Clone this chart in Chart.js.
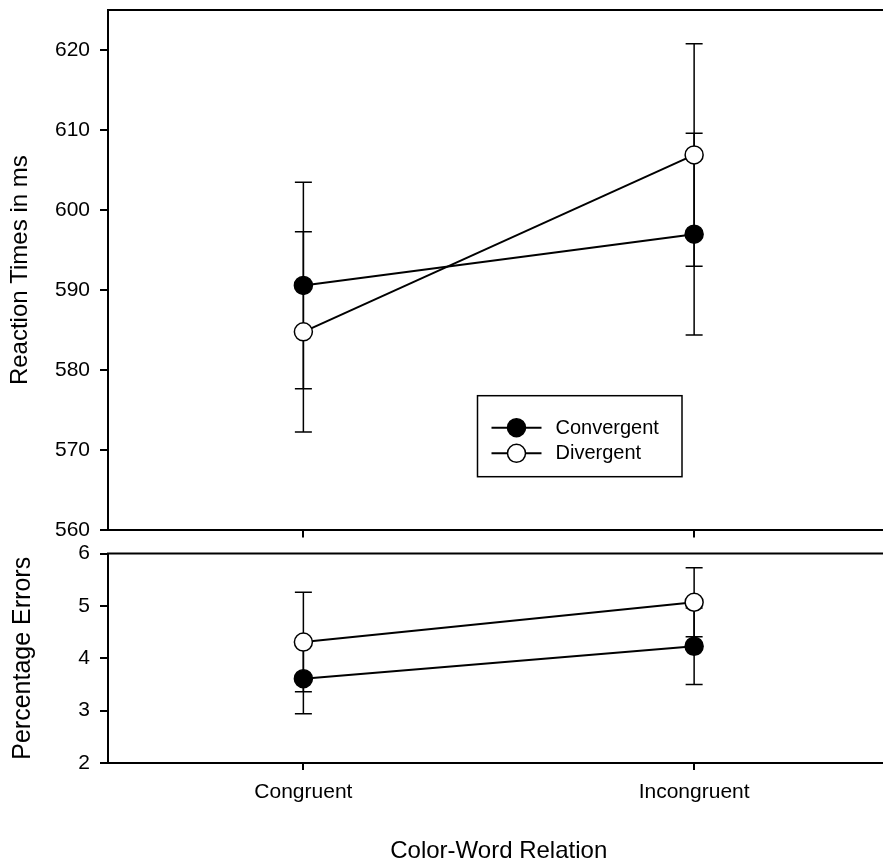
<!DOCTYPE html>
<html><head><meta charset="utf-8">
<script src="https://cdn.jsdelivr.net/npm/chart.js@4.4.1/dist/chart.umd.min.js"></script>
<style>
html,body{margin:0;padding:0;background:#fff;}
#wrap{position:relative;width:883px;height:862px;overflow:hidden;background:#fff;}
#wrap canvas{position:absolute;left:0;}
#top{top:-20px;}
#bot{top:531px;}
</style></head><body>
<div id="wrap">
<canvas id="top" width="900" height="573" style="width:900px;height:573px"></canvas>
<canvas id="bot" width="900" height="331" style="width:900px;height:331px"></canvas>
</div>
<script>
// ---- data ----
const categories = ['Congruent', 'Incongruent'];
const seriesNames = ['Convergent', 'Divergent'];
const rtConvergent = [590.6, 597.0];
const rtConvergentErr = [12.9, 12.6];
const rtDivergent = [584.8, 606.9];
const rtDivergentErr = [12.5, 13.9];
const peConvergent = [3.61, 4.23];
const peConvergentErr = [0.67, 0.73];
const peDivergent = [4.31, 5.07];
const peDivergentErr = [0.95, 0.66];
const rtTicks = [560, 570, 580, 590, 600, 610, 620];
const peTicks = [2, 3, 4, 5, 6];
const rtRange = [560, 625];
const peRange = [2, 6];
const rtTitle = 'Reaction Times in ms';
const peTitle = 'Percentage Errors';
const xTitle = 'Color-Word Relation';

Chart.defaults.font.family = "'Liberation Sans', Arial, Helvetica, sans-serif";
Chart.defaults.color = '#000';

const errorBarPlugin = {
  id: 'errorBars',
  beforeDatasetsDraw(chart) {
    const ctx = chart.ctx, ys = chart.scales.y;
    chart.data.datasets.forEach((ds, i) => {
      if (!ds.errors) return;
      const meta = chart.getDatasetMeta(i);
      ctx.save();
      ctx.strokeStyle = '#000';
      ctx.lineWidth = 1.5;
      meta.data.forEach((pt, j) => {
        const v = ds.data[j], e = ds.errors[j];
        const yt = ys.getPixelForValue(v + e), yb = ys.getPixelForValue(v - e);
        ctx.beginPath();
        ctx.moveTo(pt.x, yt); ctx.lineTo(pt.x, yb);
        ctx.moveTo(pt.x - 8.5, yt); ctx.lineTo(pt.x + 8.5, yt);
        ctx.moveTo(pt.x - 8.5, yb); ctx.lineTo(pt.x + 8.5, yb);
        ctx.stroke();
      });
      ctx.restore();
    });
  }
};

const frameTopPlugin = {
  id: 'frameTop',
  afterDraw(chart) {
    const {ctx, chartArea: a} = chart;
    ctx.save();
    ctx.strokeStyle = '#000';
    ctx.lineWidth = 2;
    ctx.beginPath();
    ctx.moveTo(a.left - 1, a.top);
    ctx.lineTo(a.right + 1, a.top);
    ctx.stroke();
    ctx.restore();
  }
};

const boxLegendPlugin = {
  id: 'boxLegend',
  afterDraw(chart, args, opts) {
    if (!opts || !opts.show) return;
    const ctx = chart.ctx;
    const x0 = opts.x, y0 = opts.y, w = opts.w, h = opts.h;
    ctx.save();
    ctx.fillStyle = '#fff';
    ctx.fillRect(x0, y0, w, h);
    ctx.strokeStyle = '#000';
    ctx.lineWidth = 1.5;
    ctx.strokeRect(x0, y0, w, h);
    chart.data.datasets.forEach((ds, i) => {
      const cy = y0 + opts.firstRow + i * opts.rowGap;
      const lx0 = x0 + 14, lx1 = x0 + 64, cx = (lx0 + lx1) / 2;
      ctx.strokeStyle = '#000';
      ctx.lineWidth = 2;
      ctx.beginPath(); ctx.moveTo(lx0, cy); ctx.lineTo(lx1, cy); ctx.stroke();
      ctx.beginPath(); ctx.arc(cx, cy, 9, 0, Math.PI * 2);
      ctx.fillStyle = ds.pointBackgroundColor; ctx.fill();
      ctx.lineWidth = 1.5; ctx.stroke();
      ctx.fillStyle = '#000';
      ctx.font = "20px 'Liberation Sans', Arial, sans-serif";
      ctx.textBaseline = 'alphabetic';
      ctx.textAlign = 'left';
      ctx.fillText(ds.label, x0 + 78, cy + 6);
    });
    ctx.restore();
  }
};

function makeDatasets(conv, convErr, div, divErr) {
  return [
    { label: seriesNames[0], data: conv, errors: convErr,
      borderColor: '#000', borderWidth: 2, pointRadius: 9, pointBorderWidth: 1.5,
      pointBackgroundColor: '#000', pointBorderColor: '#000', fill: false, tension: 0, clip: false },
    { label: seriesNames[1], data: div, errors: divErr,
      borderColor: '#000', borderWidth: 2, pointRadius: 9, pointBorderWidth: 1.5,
      pointBackgroundColor: '#fff', pointBorderColor: '#000', fill: false, tension: 0, clip: false }
  ];
}

function makeOptions(cfg) {
  return {
    responsive: false,
    animation: false,
    events: [],
    layout: { padding: { top: cfg.padTop, right: 8, left: 0, bottom: 0 } },
    plugins: {
      legend: { display: false },
      tooltip: { enabled: false },
      boxLegend: cfg.legend || { show: false }
    },
    scales: {
      x: {
        type: 'category', offset: true,
        grid: { display: true, drawOnChartArea: false, drawTicks: true, tickLength: 7, color: '#000', lineWidth: 2 },
        border: { display: true, color: '#000', width: 2 },
        ticks: { display: cfg.showX, color: '#000', font: { size: 21 }, padding: 10, maxRotation: 0, autoSkip: false },
        title: { display: cfg.showX, text: xTitle, color: '#000', font: { size: 24 }, padding: { top: 0, bottom: -4 } },
        afterFit: s => { s.height = cfg.xHeight; }
      },
      y: {
        type: 'linear', min: cfg.range[0], max: cfg.range[1],
        afterBuildTicks: s => { s.ticks = cfg.ticks.map(v => ({ value: v })); },
        grid: { drawOnChartArea: false, drawTicks: true, tickLength: 8, color: '#000', lineWidth: 2 },
        border: { display: true, color: '#000', width: 2 },
        ticks: { color: '#000', font: { size: 21 }, padding: 10 },
        title: { display: true, text: cfg.yTitle, color: '#000', font: { size: cfg.yTitleSize }, padding: { top: cfg.yTitlePad, bottom: 0 } },
        afterFit: s => { s.width = 108; }
      }
    }
  };
}

new Chart(document.getElementById('top'), {
  type: 'line',
  data: { labels: categories, datasets: makeDatasets(rtConvergent, rtConvergentErr, rtDivergent, rtDivergentErr) },
  options: makeOptions({ padTop: 30, showX: false, xHeight: 16, range: rtRange, ticks: rtTicks, yTitle: rtTitle, yTitlePad: 6, yTitleSize: 24,
    legend: { show: true, x: 477.5, y: 415.7, w: 204.5, h: 81, firstRow: 32, rowGap: 25.6 } }),
  plugins: [errorBarPlugin, frameTopPlugin, boxLegendPlugin]
});

new Chart(document.getElementById('bot'), {
  type: 'line',
  data: { labels: categories, datasets: makeDatasets(peConvergent, peConvergentErr, peDivergent, peDivergentErr) },
  options: makeOptions({ padTop: 21.3, showX: true, xHeight: 99, range: peRange, ticks: peTicks, yTitle: peTitle, yTitlePad: 8, yTitleSize: 25 }),
  plugins: [errorBarPlugin, frameTopPlugin, boxLegendPlugin]
});
</script>
</body></html>
